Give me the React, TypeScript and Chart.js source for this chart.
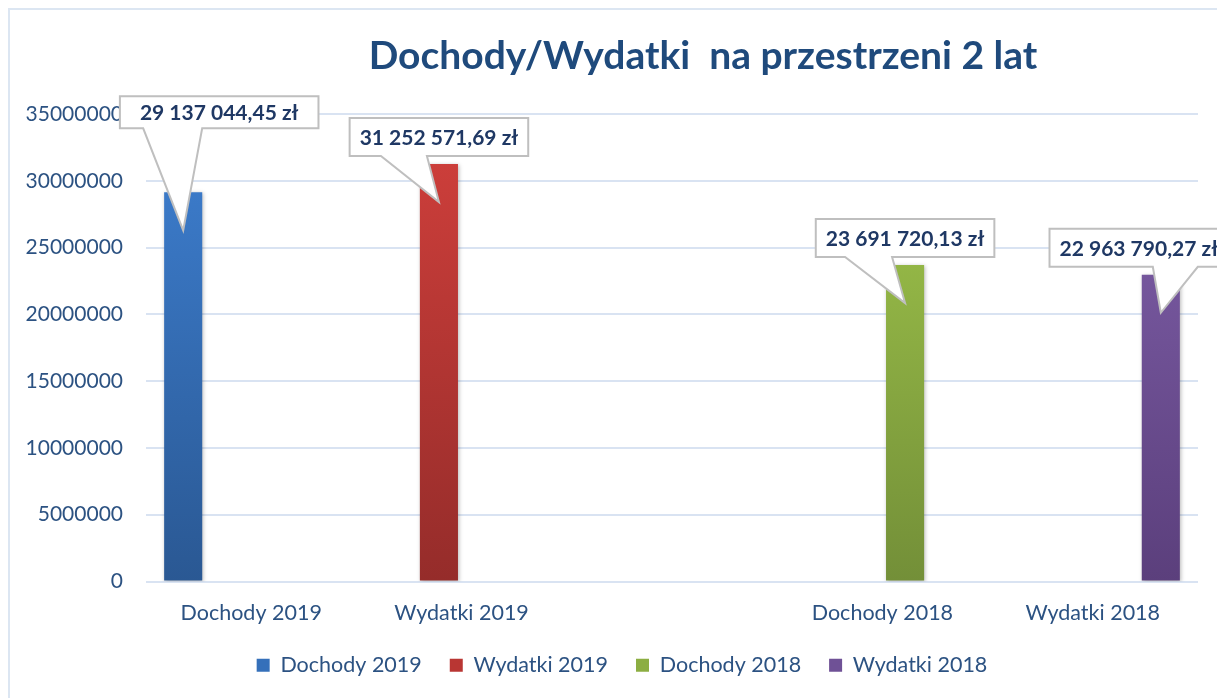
import React, { useEffect, useRef } from 'react';
import { Chart, registerables } from 'chart.js';

Chart.register(...registerables);

// ---- data ----
const categories = ['Dochody 2019', 'Wydatki 2019', '', 'Dochody 2018', 'Wydatki 2018'];
const seriesNames = ['Dochody 2019', 'Wydatki 2019', 'Dochody 2018', 'Wydatki 2018'];
const seriesCategoryIndex = [0, 1, 3, 4];
const seriesValues = [29137044.45, 31252571.69, 23691720.13, 22963790.27];
const yMax = 35000000;
const yStep = 5000000;
const chartTitle = 'Dochody/Wydatki  na przestrzeni 2 lat';

// ---- styles ----
const seriesTopColors = ['#3E80D2', '#D2403C', '#A2C84C', '#8262AD'];
const seriesBottomColors = ['#2A5893', '#952C2A', '#738F38', '#5B3F7C'];
const seriesMidColors = ['#3570BA', '#B93633', '#8CAE42', '#6F5196'];
const calloutDx = [36, 0, 0, -22];
const calloutRise = [102, 46, 46, 46];
const calloutHeight = [32, 38, 38, 38];
const calloutPadX = [20, 10, 10, 10];
const calloutBase = [[-76, -17], [-58, -12], [-60, -13], [14, 59]];
const tipDepth = 38;
const legendShiftX = 23;

const FONT = "Lato, 'Open Sans', 'DejaVu Sans', sans-serif";
const TICK_COLOR = '#2C5282';
const LABEL_COLOR = '#1F3864';
const TITLE_COLOR = '#1F4A7C';
const GRID_COLOR = '#D9E3F2';

function formatPLN(v: number): string {
  const fixed = v.toFixed(2);
  const [intPart, dec] = fixed.split('.');
  const grouped = intPart.replace(/\B(?=(\d{3})+(?!\d))/g, ' ');
  return `${grouped},${dec} zł`;
}

const titlePlugin = {
  id: 'customTitle',
  afterDraw(chart: any) {
    const ctx = chart.ctx;
    ctx.save();
    ctx.font = `bold 39px ${FONT}`;
    ctx.fillStyle = TITLE_COLOR;
    ctx.textAlign = 'center';
    ctx.textBaseline = 'middle';
    ctx.fillText(chartTitle, 703, 56);
    ctx.restore();
  },
};

const legendShiftPlugin = {
  id: 'legendShift',
  afterLayout(chart: any) {
    const lg = chart.legend;
    if (!lg) return;
    lg.left += legendShiftX;
    lg.right += legendShiftX;
  },
};

const shadowPlugin = {
  id: 'barShadow',
  beforeDatasetsDraw(chart: any) {
    const ctx = chart.ctx;
    ctx.save();
    ctx.shadowColor = 'rgba(0,0,0,0.28)';
    ctx.shadowBlur = 4;
    ctx.shadowOffsetX = 1;
    ctx.shadowOffsetY = 1;
  },
  afterDatasetsDraw(chart: any) {
    chart.ctx.restore();
  },
};

const calloutPlugin = {
  id: 'callouts',
  afterDatasetsDraw(chart: any) {
    const ctx = chart.ctx;
    ctx.save();
    ctx.font = `bold 21px ${FONT}`;
    seriesValues.forEach((v, i) => {
      const meta = chart.getDatasetMeta(i);
      const el = meta.data[seriesCategoryIndex[i]];
      if (!el) return;
      const text = formatPLN(v);
      const tw = ctx.measureText(text).width;
      const tipX = el.x;
      const tipY = el.y + tipDepth;
      const cx = el.x + calloutDx[i];
      const bottom = tipY - calloutRise[i];
      const top = bottom - calloutHeight[i];
      const w = tw + calloutPadX[i] * 2;
      const left = cx - w / 2;
      const right = cx + w / 2;
      const b0 = cx + calloutBase[i][0];
      const b1 = cx + calloutBase[i][1];
      ctx.beginPath();
      ctx.moveTo(left, top);
      ctx.lineTo(right, top);
      ctx.lineTo(right, bottom);
      ctx.lineTo(b1, bottom);
      ctx.lineTo(tipX, tipY);
      ctx.lineTo(b0, bottom);
      ctx.lineTo(left, bottom);
      ctx.closePath();
      ctx.fillStyle = '#FFFFFF';
      ctx.fill();
      ctx.lineWidth = 2;
      ctx.strokeStyle = '#BFBFBF';
      ctx.stroke();
      ctx.fillStyle = LABEL_COLOR;
      ctx.textAlign = 'center';
      ctx.textBaseline = 'middle';
      ctx.fillText(text, cx, (top + bottom) / 2 + 1);
    });
    ctx.restore();
  },
};

export default function App() {
  const canvasRef = useRef<HTMLCanvasElement | null>(null);

  useEffect(() => {
    if (!canvasRef.current) return;
    const datasets = seriesNames.map((name, i) => ({
      label: name,
      data: categories.map((_, ci) => (ci === seriesCategoryIndex[i] ? seriesValues[i] : null)),
      backgroundColor: (c: any) => {
        const ca = c.chart.chartArea;
        if (!ca) return seriesMidColors[i];
        const g = c.chart.ctx.createLinearGradient(0, ca.top, 0, ca.bottom);
        g.addColorStop(0, seriesTopColors[i]);
        g.addColorStop(1, seriesBottomColors[i]);
        return g;
      },
      borderWidth: 0,
      categoryPercentage: 0.862,
      barPercentage: 0.84,
    }));

    const chart = new Chart(canvasRef.current, {
      type: 'bar',
      data: { labels: categories, datasets },
      options: {
        responsive: false,
        animation: false,
        layout: { padding: { left: 0, right: 19, top: 114, bottom: 12 } },
        plugins: {
          title: { display: false },
          tooltip: { enabled: false },
          legend: {
            position: 'bottom',
            labels: {
              font: { family: FONT, size: 21.5 },
              color: TICK_COLOR,
              boxWidth: 13,
              boxHeight: 13,
              padding: 28,
              generateLabels: () =>
                seriesNames.map((n, i) => ({
                  text: n,
                  fillStyle: seriesMidColors[i],
                  strokeStyle: seriesMidColors[i],
                  lineWidth: 0,
                  hidden: false,
                  datasetIndex: i,
                  fontColor: TICK_COLOR,
                })),
            },
          },
        },
        scales: {
          x: {
            grid: { display: false },
            border: { display: false },
            ticks: {
              font: { family: FONT, size: 21.5 },
              color: TICK_COLOR,
              padding: 11,
              maxRotation: 0,
              autoSkip: false,
            },
            afterFit: (s: any) => {
              s.height = 45;
            },
          },
          y: {
            min: 0,
            max: yMax,
            ticks: {
              stepSize: yStep,
              font: { family: FONT, size: 21 },
              color: TICK_COLOR,
              padding: 23,
              callback: (v: any) => String(v),
            },
            grid: { color: GRID_COLOR, lineWidth: 2, drawTicks: false },
            border: { display: false },
            afterFit: (s: any) => {
              s.width = 146;
            },
          },
        },
      },
      plugins: [legendShiftPlugin, shadowPlugin, calloutPlugin, titlePlugin],
    });
    return () => chart.destroy();
  }, []);

  return (
    <div
      style={{
        position: 'fixed',
        left: 0,
        top: 0,
        width: 1217,
        height: 698,
        overflow: 'hidden',
        background: '#FFFFFF',
      }}
    >
      <div
        style={{
          position: 'absolute',
          left: 8,
          top: 8,
          width: 1400,
          height: 900,
          borderLeft: '2px solid #DCE6F2',
          borderTop: '2px solid #DCE6F2',
        }}
      />
      <canvas
        ref={canvasRef}
        width={1217}
        height={698}
        style={{ position: 'absolute', left: 0, top: 0, width: 1217, height: 698 }}
      />
    </div>
  );
}
